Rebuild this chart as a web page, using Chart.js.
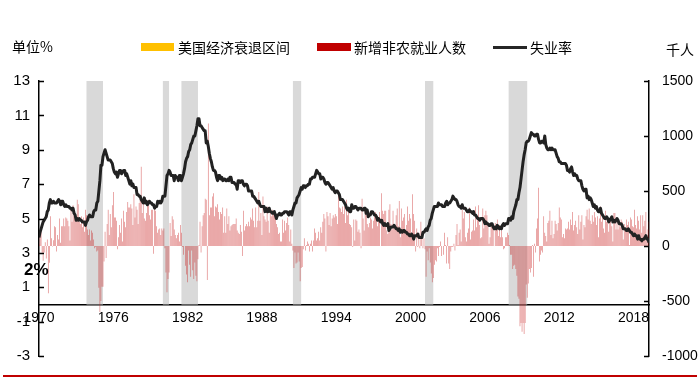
<!DOCTYPE html>
<html>
<head>
<meta charset="utf-8">
<script src="https://cdn.jsdelivr.net/npm/chart.js@4/dist/chart.umd.min.js"></script>
<style>
  html, body { margin: 0; padding: 0; background: #fff; }
  #wrap { position: relative; width: 700px; height: 392px; font-family: "Noto Sans CJK SC", "Liberation Sans", sans-serif; }
  .t { position: absolute; font-size: 14px; line-height: 18px; color: #000; white-space: nowrap; }
  .box { position: absolute; }
</style>
</head>
<body>
<div id="wrap">
  <canvas id="chart" width="700" height="392"></canvas>
  <div class="t" style="left:12px;top:37px;">单位%</div>
  <div class="box" style="left:141px;top:43px;width:33px;height:8px;background:#ffc000;"></div>
  <div class="t" style="left:178px;top:38px;">美国经济衰退区间</div>
  <div class="box" style="left:317px;top:43px;width:34px;height:8px;background:#c00000;"></div>
  <div class="t" style="left:354px;top:38px;">新增非农就业人数</div>
  <div class="box" style="left:493px;top:46px;width:34px;height:3px;background:#262626;"></div>
  <div class="t" style="left:530px;top:38px;">失业率</div>
  <div class="t" style="left:666px;top:40px;">千人</div>
  <div class="t" style="left:24px;top:261px;font-family:'Liberation Sans',sans-serif;font-weight:bold;font-size:17px;">2%</div>
  <div class="box" style="left:3px;top:375px;width:694px;height:1.5px;background:#c00000;"></div>
</div>
<script>
// monthly data, Jan 1970 - Apr 2019
const startYear = 1970;
const yearTicks = [1970, 1976, 1982, 1988, 1994, 2000, 2006, 2012, 2018];

// unemployment rate, %
const unemployment = [
  3.9, 4.2, 4.4, 4.6, 4.8, 4.9, 5.0, 5.1, 5.4, 5.5, 5.9, 6.1,
  5.9, 5.9, 6.0, 5.9, 5.9, 5.9, 6.0, 6.1, 6.0, 5.8, 6.0, 6.0,
  5.8, 5.7, 5.8, 5.7, 5.7, 5.7, 5.6, 5.6, 5.5, 5.6, 5.3, 5.2,
  4.9, 5.0, 4.9, 5.0, 4.9, 4.9, 4.8, 4.8, 4.8, 4.6, 4.8, 4.9,
  5.1, 5.2, 5.1, 5.1, 5.1, 5.4, 5.5, 5.5, 5.9, 6.0, 6.6, 7.2,
  8.1, 8.1, 8.6, 8.8, 9.0, 8.8, 8.6, 8.4, 8.4, 8.4, 8.3, 8.2,
  7.9, 7.7, 7.6, 7.7, 7.4, 7.6, 7.8, 7.8, 7.6, 7.7, 7.8, 7.8,
  7.5, 7.6, 7.4, 7.2, 7.0, 7.2, 6.9, 7.0, 6.8, 6.8, 6.8, 6.4,
  6.4, 6.3, 6.3, 6.1, 6.0, 5.9, 6.2, 5.9, 6.0, 5.8, 5.9, 6.0,
  5.9, 5.9, 5.8, 5.8, 5.6, 5.7, 5.7, 6.0, 5.9, 6.0, 5.9, 6.0,
  6.3, 6.3, 6.3, 6.9, 7.5, 7.6, 7.8, 7.7, 7.5, 7.5, 7.5, 7.2,
  7.5, 7.4, 7.4, 7.2, 7.5, 7.5, 7.2, 7.4, 7.6, 7.9, 8.3, 8.5,
  8.6, 8.9, 9.0, 9.3, 9.4, 9.6, 9.8, 9.8, 10.1, 10.4, 10.8, 10.8,
  10.4, 10.4, 10.3, 10.2, 10.1, 10.1, 9.4, 9.5, 9.2, 8.8, 8.5, 8.3,
  8.0, 7.8, 7.8, 7.7, 7.4, 7.2, 7.5, 7.5, 7.3, 7.4, 7.2, 7.3,
  7.3, 7.2, 7.2, 7.3, 7.2, 7.4, 7.4, 7.1, 7.1, 7.1, 7.0, 7.0,
  6.7, 7.2, 7.2, 7.1, 7.2, 7.2, 7.0, 6.9, 7.0, 7.0, 6.9, 6.6,
  6.6, 6.6, 6.6, 6.3, 6.3, 6.2, 6.1, 6.0, 5.9, 6.0, 5.8, 5.7,
  5.7, 5.7, 5.7, 5.4, 5.6, 5.4, 5.4, 5.6, 5.4, 5.4, 5.3, 5.3,
  5.4, 5.2, 5.0, 5.2, 5.2, 5.3, 5.2, 5.2, 5.3, 5.3, 5.4, 5.4,
  5.4, 5.3, 5.2, 5.4, 5.4, 5.2, 5.5, 5.7, 5.9, 5.9, 6.2, 6.3,
  6.4, 6.6, 6.8, 6.7, 6.9, 6.9, 6.8, 6.9, 6.9, 7.0, 7.0, 7.3,
  7.3, 7.4, 7.4, 7.4, 7.6, 7.8, 7.7, 7.6, 7.6, 7.3, 7.4, 7.4,
  7.3, 7.1, 7.0, 7.1, 7.1, 7.0, 6.9, 6.8, 6.7, 6.8, 6.6, 6.5,
  6.6, 6.6, 6.5, 6.4, 6.1, 6.1, 6.1, 6.0, 5.9, 5.8, 5.6, 5.5,
  5.6, 5.4, 5.4, 5.8, 5.6, 5.6, 5.7, 5.7, 5.6, 5.5, 5.6, 5.6,
  5.6, 5.5, 5.5, 5.6, 5.6, 5.3, 5.5, 5.1, 5.2, 5.2, 5.4, 5.4,
  5.3, 5.2, 5.2, 5.1, 4.9, 5.0, 4.9, 4.8, 4.9, 4.7, 4.6, 4.7,
  4.6, 4.6, 4.7, 4.3, 4.4, 4.5, 4.5, 4.5, 4.6, 4.5, 4.4, 4.4,
  4.3, 4.4, 4.2, 4.3, 4.2, 4.3, 4.3, 4.2, 4.2, 4.1, 4.1, 4.0,
  4.0, 4.1, 4.0, 3.8, 4.0, 4.0, 4.0, 4.1, 3.9, 3.9, 3.9, 3.9,
  4.2, 4.2, 4.3, 4.4, 4.3, 4.5, 4.6, 4.9, 5.0, 5.3, 5.5, 5.7,
  5.7, 5.7, 5.7, 5.9, 5.8, 5.8, 5.8, 5.7, 5.7, 5.7, 5.9, 6.0,
  5.8, 5.9, 5.9, 6.0, 6.1, 6.3, 6.2, 6.1, 6.1, 6.0, 5.8, 5.7,
  5.7, 5.6, 5.8, 5.6, 5.6, 5.6, 5.5, 5.4, 5.4, 5.5, 5.4, 5.4,
  5.3, 5.4, 5.2, 5.2, 5.1, 5.0, 5.0, 4.9, 5.0, 5.0, 5.0, 4.9,
  4.7, 4.8, 4.7, 4.7, 4.6, 4.6, 4.7, 4.7, 4.5, 4.4, 4.5, 4.4,
  4.6, 4.5, 4.4, 4.5, 4.4, 4.6, 4.7, 4.6, 4.7, 4.7, 4.7, 5.0,
  5.0, 4.9, 5.1, 5.0, 5.4, 5.6, 5.8, 6.1, 6.1, 6.5, 6.8, 7.3,
  7.8, 8.3, 8.7, 9.0, 9.4, 9.5, 9.5, 9.6, 9.8, 10.0, 9.9, 9.9,
  9.8, 9.8, 9.9, 9.9, 9.6, 9.4, 9.4, 9.5, 9.5, 9.4, 9.8, 9.3,
  9.1, 9.0, 9.0, 9.1, 9.0, 9.1, 9.0, 9.0, 9.0, 8.8, 8.6, 8.5,
  8.3, 8.3, 8.2, 8.2, 8.2, 8.2, 8.2, 8.1, 7.8, 7.8, 7.7, 7.9,
  8.0, 7.7, 7.5, 7.6, 7.5, 7.5, 7.3, 7.2, 7.2, 7.2, 6.9, 6.7,
  6.6, 6.7, 6.7, 6.2, 6.3, 6.1, 6.2, 6.1, 5.9, 5.7, 5.8, 5.6,
  5.7, 5.5, 5.4, 5.4, 5.6, 5.3, 5.2, 5.1, 5.0, 5.0, 5.1, 5.0,
  4.8, 4.9, 5.0, 5.1, 4.8, 4.9, 4.8, 4.9, 5.0, 4.9, 4.7, 4.7,
  4.7, 4.6, 4.4, 4.4, 4.4, 4.3, 4.3, 4.4, 4.3, 4.2, 4.2, 4.1,
  4.0, 4.1, 4.0, 4.0, 3.8, 4.0, 3.8, 3.8, 3.7, 3.8, 3.8, 3.9,
  4.0, 3.8, 3.8, 3.6
];

// nonfarm payroll change, thousands
const payrolls = [
  15, 93, 131, -61, -135, -59, 33, -114, 58, -430, -153, 270,
  70, -5, 52, 180, 170, -50, 100, 60, 250, 30, 180, 180,
  250, 180, 260, 250, 230, 180, 50, 330, 220, 370, 270, 260,
  240, 420, 380, 220, 200, 270, 170, 260, 130, 330, 280, 150,
  100, 150, 50, 140, 120, 60, -20, -10, -50, -40, -380, -600,
  -500, -370, -370, -140, 130, -110, 200, 330, 100, 290, 170, 370,
  490, 260, 260, 230, -30, 80, 190, 120, 250, 40, 320, 220,
  170, 310, 400, 350, 350, 380, 340, 190, 470, 260, 360, 330,
  200, 390, 450, 720, 300, 430, 250, 230, 300, 390, 420, 280,
  240, 330, 330, -70, 340, 320, 180, 120, 150, 160, 100, 160,
  140, 160, -20, -240, -420, -300, -240, 210, 90, 270, 240, 150,
  100, 70, 100, 120, 40, 190, 120, -10, -80, 0, -180, -260,
  -330, -40, -170, -280, -40, -220, -300, -150, -270, -320, -120, 10,
  220, -60, 180, 280, 300, 430, 420, -310, 1114, 280, 350, 350,
  450, 480, 270, 360, 350, 380, 310, 240, 310, 290, 350, 120,
  270, 120, 340, 200, 270, 140, 180, 190, 200, 200, 200, 250,
  140, 120, 110, 190, 130, -90, 320, 140, 180, 200, 180, 220,
  180, 260, 240, 340, 230, 170, 350, 170, 230, 490, 230, 300,
  100, 450, 270, 240, 220, 360, 230, 120, 340, 270, 330, 290,
  280, 260, 200, 170, 110, 120, 40, 40, 240, 120, 230, 140,
  210, 260, 190, 40, 150, 20, -40, -200, -60, -160, -150, -60,
  -140, -320, -200, -190, -30, 70, -40, 10, 40, 20, -50, 20,
  50, -50, 50, 160, 120, 50, 70, 130, 50, 170, 120, 220,
  290, 250, -50, 310, 270, 190, 300, 180, 250, 280, 260, 290,
  270, 200, 460, 350, 340, 310, 360, 290, 360, 210, 420, 280,
  340, 200, 190, 170, -10, 240, 50, 240, 230, 130, 150, 120,
  -20, 430, 250, 140, 320, 280, 200, 170, 210, 260, 240, 160,
  230, 300, 310, 290, 180, 240, 310, 0, 480, 320, 290, 320,
  320, 140, 110, 330, 380, 200, 150, 320, 200, 180, 280, 340,
  180, 410, 80, 340, 230, 260, 290, 110, 190, 360, 230, 290,
  250, 120, 470, 290, 230, -50, 160, -10, 120, -20, 220, 130,
  -20, 70, -30, -280, -50, -130, -20, -150, -250, -330, -290, -170,
  -130, -140, -20, -90, -10, 40, -90, 0, -80, 120, 10, -160,
  80, -160, -210, -50, -10, -10, 20, -40, 100, 200, 10, 120,
  150, 40, 330, 250, 310, 80, 40, 120, 160, 350, 60, 130,
  140, 240, 140, 360, 170, 250, 370, 190, 70, 80, 340, 160,
  280, 320, 280, 180, 20, 80, 210, 180, 160, 0, 210, 170,
  240, 90, 190, 80, 140, 80, -30, -20, 80, 80, 120, 100,
  10, -80, -80, -210, -180, -170, -210, -270, -460, -480, -730, -700,
  -780, -700, -800, -700, -350, -470, -340, -210, -240, -200, 10, -280,
  20, -60, 160, 250, 530, -140, -80, -40, -60, 270, 120, 90,
  40, 210, 230, 320, 100, 230, 70, 110, 230, 200, 140, 210,
  350, 260, 240, 80, 110, 70, 160, 150, 160, 220, 150, 240,
  190, 310, 140, 190, 230, 170, 110, 280, 150, 220, 280, 60,
  190, 170, 270, 330, 240, 340, 230, 200, 280, 220, 310, 260,
  190, 270, 80, 250, 360, 220, 280, 160, 120, 320, 220, 240,
  130, 240, 230, 180, 40, 300, 300, 150, 260, 150, 200, 170,
  240, 220, 60, 200, 160, 240, 190, 220, 10, 260, 240, 180,
  170, 330, 190, 160, 270, 230, 150, 280, 120, 280, 180, 230,
  310, 50, 150, 220
];

// US recessions (first and last month)
const recessionStart = ["1973-11", "1980-01", "1981-07", "1990-07", "2001-03", "2007-12"];
const recessionEnd   = ["1975-03", "1980-07", "1982-11", "1991-03", "2001-11", "2009-06"];

function monthIndex(s) {
  const [yy, mm] = s.split("-").map(Number);
  return (yy - startYear) * 12 + (mm - 1);
}

const months = unemployment.map((_, i) => i);

/* ===============================
   PLUGINS
================================ */
const recessionShade = {
  id: "recessionShade",
  beforeDatasetsDraw(chart) {
    const { ctx, scales: { x, y } } = chart;
    const top = y.getPixelForValue(13);
    const bottom = y.getPixelForValue(0);
    ctx.save();
    ctx.fillStyle = "#d9d9d9";
    recessionStart.forEach((s, i) => {
      const x0 = x.getPixelForValue(monthIndex(s));
      const x1 = x.getPixelForValue(monthIndex(recessionEnd[i]));
      ctx.fillRect(x0, top, x1 - x0, bottom - top);
    });
    ctx.restore();
  }
};

const innerTicks = {
  id: "innerTicks",
  afterDraw(chart) {
    const { ctx, chartArea, scales: { y, y1 } } = chart;
    ctx.save();
    ctx.strokeStyle = "#000";
    ctx.lineWidth = 1.5;
    ctx.beginPath();
    y.ticks.forEach(t => {
      const p = Math.round(y.getPixelForValue(t.value)) + 0.5;
      ctx.moveTo(chartArea.left, p);
      ctx.lineTo(chartArea.left + 5, p);
    });
    y1.ticks.forEach(t => {
      const p = Math.round(y1.getPixelForValue(t.value)) + 0.5;
      ctx.moveTo(chartArea.right, p);
      ctx.lineTo(chartArea.right - 5, p);
    });
    ctx.stroke();
    ctx.restore();
  }
};

/* ===============================
   CHART
================================ */
new Chart(document.getElementById("chart"), {
  data: {
    labels: months,
    datasets: [
      {
        type: "line",
        label: "失业率",
        data: unemployment,
        yAxisID: "y",
        borderColor: "#222222",
        borderWidth: 3,
        pointRadius: 0,
        tension: 0,
        borderJoinStyle: "round",
        order: 0
      },
      {
        type: "bar",
        label: "新增非农就业人数",
        data: payrolls,
        yAxisID: "y1",
        backgroundColor: "rgba(200,30,30,0.62)",
        borderWidth: 0,
        categoryPercentage: 1,
        barPercentage: 0.6,
        order: 1
      }
    ]
  },
  options: {
    responsive: false,
    animation: false,
    devicePixelRatio: 1,
    layout: { padding: { top: 81, bottom: 36, left: 0, right: 0 } },
    plugins: { legend: { display: false }, tooltip: { enabled: false } },
    scales: {
      x: {
        type: "linear",
        min: 0,
        max: unemployment.length - 1,
        offset: false,
        position: { y: 0 },
        z: 1,
        grid: { display: false, drawTicks: false },
        border: { display: true, color: "#000", width: 1.5 },
        afterBuildTicks: scale => {
          scale.ticks = yearTicks.map(yr => ({ value: (yr - startYear) * 12 }));
        },
        afterFit: scale => { scale.height = 0; },
        ticks: {
          autoSkip: false,
          maxRotation: 0,
          padding: 5,
          color: "#000",
          font: { family: "Liberation Sans", size: 14 },
          callback: v => String(startYear + v / 12)
        }
      },
      y: {
        position: "left",
        min: -3,
        max: 13,
        grid: { display: false, drawTicks: false },
        border: { display: true, color: "#000", width: 1.5 },
        afterFit: scale => { scale.width = 39; },
        ticks: {
          stepSize: 2,
          padding: 9,
          color: "#000",
          font: { family: "Liberation Sans", size: 15 },
          callback: v => String(v)
        }
      },
      y1: {
        position: "right",
        min: -1000,
        max: 1500,
        grid: { display: false, drawTicks: false },
        border: { display: true, color: "#000", width: 1.5 },
        afterFit: scale => { scale.width = 51; },
        ticks: {
          stepSize: 500,
          padding: 13,
          color: "#000",
          font: { family: "Liberation Sans", size: 14 },
          callback: v => String(v)
        }
      }
    }
  },
  plugins: [recessionShade, innerTicks]
});
</script>
</body>
</html>
